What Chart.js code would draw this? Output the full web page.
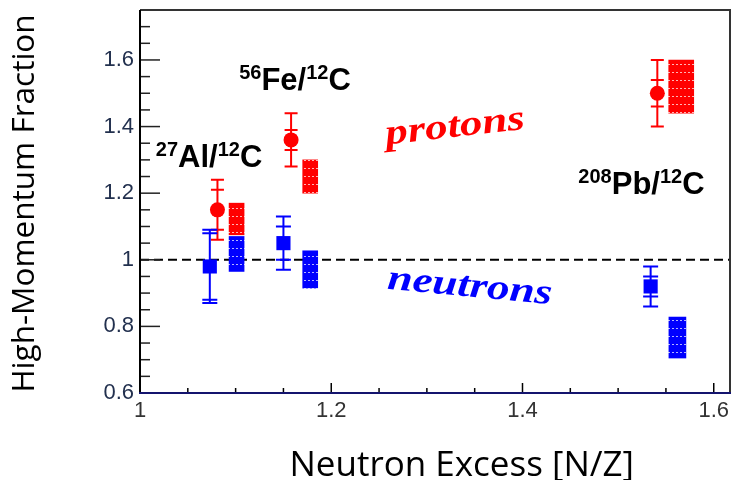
<!DOCTYPE html>
<html lang="en">
<head>
<meta charset="UTF-8" />
<title>High-Momentum Fraction vs Neutron Excess</title>
<script src="https://cdn.jsdelivr.net/npm/chart.js"></script>
<style>
  body { margin: 0; background: #fff; }
  .chart-container { width: 740px; height: 480px; }
</style>
</head>
<body>
<div class="chart-container"><canvas id="hmChart"></canvas></div>
<script>
  // measured A/12C ratios of the high-momentum fraction, for 27Al, 56Fe, 208Pb
  const protonNZ = [1.081, 1.158, 1.541];
  const protonRatio = [1.15, 1.36, 1.5];
  const protonStatErr = [0.06, 0.03, 0.04];
  const protonTotErr = [0.09, 0.08, 0.1];

  const neutronNZ = [1.073, 1.15, 1.534];
  const neutronRatio = [0.98, 1.05, 0.92];
  const neutronStatErr = [0.1, 0.05, 0.03];
  const neutronTotErr = [0.11, 0.08, 0.06];

  // calculation bands (Al, Fe, Pb)
  const protonBandNZ = [1.101, 1.178, 1.566];
  const protonBandLow = [1.075, 1.2, 1.44];
  const protonBandHigh = [1.17, 1.3, 1.6];
  const neutronBandNZ = [1.101, 1.178, 1.562];
  const neutronBandLow = [0.965, 0.915, 0.705];
  const neutronBandHigh = [1.07, 1.027, 0.828];

  const xTickValues = [1, 1.2, 1.4, 1.6];
  const yTickValues = [0.6, 0.8, 1, 1.2, 1.4, 1.6];

  const RED = "#ff0000";
  const BLUE = "#0000ff";

  function toPoints(xs, ys) {
    return xs.map((x, i) => ({ x: x, y: ys[i] }));
  }
  function toBands(xs, lo, hi) {
    return xs.map((x, i) => ({ x: x, y: [lo[i], hi[i]] }));
  }

  // solid fill with the dotted white rows of the calculation boxes
  function bandPattern(color) {
    const c = document.createElement("canvas");
    c.width = 4;
    c.height = 8;
    const g = c.getContext("2d");
    g.fillStyle = color;
    g.fillRect(0, 0, 4, 8);
    g.fillStyle = "rgba(255,255,255,0.7)";
    g.fillRect(0, 0, 2, 1);
    return g.createPattern(c, "repeat");
  }

  function bandSet(data, color, width) {
    return {
      type: "bar",
      data: data,
      backgroundColor: bandPattern(color),
      borderWidth: 0,
      barThickness: width,
      grouped: false,
    };
  }

  const protonBands = toBands(protonBandNZ, protonBandLow, protonBandHigh);
  const neutronBands = toBands(neutronBandNZ, neutronBandLow, neutronBandHigh);

  // keep the plot frame where the layout puts it (no room reserved for edge labels)
  function noEdgePadding(s) {
    s.paddingTop = 0;
    s.paddingBottom = 0;
    s.paddingLeft = 0;
    s.paddingRight = 0;
  }

  const frameAndTicks = {
    id: "frameAndTicks",
    beforeDatasetsDraw(chart) {
      const { ctx, chartArea: a, scales } = chart;
      const x = scales.x, y = scales.y;
      ctx.save();

      // dashed line at ratio = 1
      ctx.strokeStyle = "#000";
      ctx.lineWidth = 2;
      ctx.setLineDash([9, 5]);
      const y1 = y.getPixelForValue(1);
      ctx.beginPath();
      ctx.moveTo(a.left, y1);
      ctx.lineTo(a.right, y1);
      ctx.stroke();
      ctx.setLineDash([]);

      // inward ticks every 0.05
      ctx.strokeStyle = "#222";
      ctx.lineWidth = 1.5;
      for (let i = 0; 0.6 + i * 0.05 <= y.max + 1e-9; i++) {
        const py = y.getPixelForValue(0.6 + i * 0.05);
        const len = i % 4 === 0 ? 20 : 10;
        ctx.beginPath();
        ctx.moveTo(a.left, py);
        ctx.lineTo(a.left + len, py);
        ctx.stroke();
      }
      ctx.strokeStyle = "#000";
      for (let i = 0; 1 + i * 0.05 <= x.max + 1e-9; i++) {
        const px = x.getPixelForValue(1 + i * 0.05);
        const len = i % 4 === 0 ? 10 : 5;
        ctx.beginPath();
        ctx.moveTo(px, a.bottom);
        ctx.lineTo(px, a.bottom - len);
        ctx.stroke();
      }

      // frame
      ctx.lineWidth = 2;
      ctx.strokeStyle = "#333";
      ctx.beginPath();
      ctx.moveTo(a.left, a.top);
      ctx.lineTo(a.right, a.top);
      ctx.lineTo(a.right, a.bottom);
      ctx.stroke();
      ctx.strokeStyle = "#000";
      ctx.beginPath();
      ctx.moveTo(a.left, a.top);
      ctx.lineTo(a.left, a.bottom);
      ctx.stroke();
      ctx.strokeStyle = "#14146e";
      ctx.beginPath();
      ctx.moveTo(a.left - 1, a.bottom);
      ctx.lineTo(a.right + 1, a.bottom);
      ctx.stroke();

      // error bars: outer caps = total, inner caps = statistical
      const sets = [
        [protonNZ, protonRatio, protonStatErr, protonTotErr, RED, 6.5],
        [neutronNZ, neutronRatio, neutronStatErr, neutronTotErr, BLUE, 7.5],
      ];
      ctx.lineWidth = 2;
      sets.forEach(([xs, ys, stat, tot, color, cap]) => {
        ctx.strokeStyle = color;
        xs.forEach((xv, i) => {
          const px = x.getPixelForValue(xv);
          const top = y.getPixelForValue(ys[i] + tot[i]);
          const bot = y.getPixelForValue(ys[i] - tot[i]);
          const sTop = y.getPixelForValue(ys[i] + stat[i]);
          const sBot = y.getPixelForValue(ys[i] - stat[i]);
          ctx.beginPath();
          ctx.moveTo(px, top);
          ctx.lineTo(px, bot);
          [top, bot, sTop, sBot].forEach((py) => {
            ctx.moveTo(px - cap, py);
            ctx.lineTo(px + cap, py);
          });
          ctx.stroke();
        });
      });
      ctx.restore();
    },
  };

  function drawRuns(ctx, left, base, runs) {
    let cx = left;
    runs.forEach(([text, sup]) => {
      ctx.font = sup ? "bold 20px 'Liberation Sans'" : "bold 31px 'Liberation Sans'";
      ctx.fillText(text, cx, sup ? base - 11 : base);
      cx += ctx.measureText(text).width;
    });
  }

  const annotations = {
    id: "annotations",
    afterDraw(chart) {
      const { ctx, chartArea: a, scales } = chart;
      const x = scales.x, y = scales.y;
      ctx.save();
      ctx.fillStyle = "#000";
      ctx.textBaseline = "alphabetic";
      ctx.textAlign = "left";
      drawRuns(ctx, x.getPixelForValue(1.0166), y.getPixelForValue(1.28),
        [["27", true], ["Al/", false], ["12", true], ["C", false]]);
      drawRuns(ctx, x.getPixelForValue(1.1037), y.getPixelForValue(1.511),
        [["56", true], ["Fe/", false], ["12", true], ["C", false]]);
      drawRuns(ctx, x.getPixelForValue(1.4584), y.getPixelForValue(1.199),
        [["208", true], ["Pb/", false], ["12", true], ["C", false]]);

      // slanted species names
      const slanted = [
        ["protons", RED, 1.3306, 1.37, -0.113],
        ["neutrons", BLUE, 1.344, 0.89, 0.094],
      ];
      ctx.font = "italic bold 36px 'Liberation Serif'";
      ctx.textAlign = "center";
      slanted.forEach(([text, color, xv, yv, rot]) => {
        ctx.save();
        ctx.translate(x.getPixelForValue(xv), y.getPixelForValue(yv));
        ctx.rotate(rot);
        ctx.scale(1.25, 1);
        ctx.fillStyle = color;
        ctx.fillText(text, 0, 0);
        ctx.restore();
      });

      // axis titles
      ctx.fillStyle = "#000";
      ctx.font = "31.5px 'Open Sans'";
      ctx.save();
      ctx.translate(34, (a.top + a.bottom) / 2 + 2);
      ctx.rotate(-Math.PI / 2);
      ctx.fillText("High-Momentum Fraction", 0, 0);
      ctx.restore();
      ctx.font = "35px 'Open Sans'";
      ctx.fillText("Neutron Excess [N/Z]", chart.width * 0.624, chart.height - 4);
      ctx.restore();
    },
  };

  new Chart(document.getElementById("hmChart"), {
    type: "scatter",
    data: {
      datasets: [
        {
          data: toPoints(protonNZ, protonRatio),
          pointStyle: "circle",
          pointRadius: 7.5,
          backgroundColor: RED,
          borderWidth: 0,
        },
        {
          data: toPoints(neutronNZ, neutronRatio),
          pointStyle: "rect",
          pointRadius: 10,
          backgroundColor: BLUE,
          borderWidth: 0,
        },
        bandSet(protonBands.slice(0, 2), RED, 15),
        bandSet(protonBands.slice(2), RED, 25),
        bandSet(neutronBands.slice(0, 2), BLUE, 15),
        bandSet(neutronBands.slice(2), BLUE, 17),
      ],
    },
    options: {
      responsive: true,
      maintainAspectRatio: false,
      animation: false,
      layout: { padding: { top: 8, right: 2, left: 0, bottom: 0 } },
      plugins: { legend: { display: false }, tooltip: { enabled: false } },
      scales: {
        x: {
          type: "linear",
          min: 1,
          max: 1.617,
          offset: false,
          grid: { display: false, drawTicks: false },
          border: { display: false },
          afterBuildTicks: (s) => { s.ticks = xTickValues.map((v) => ({ value: v })); },
          afterFit: (s) => { s.height = 87; noEdgePadding(s); },
          ticks: {
            color: "#333",
            padding: 5,
            maxRotation: 0,
            font: { family: "'Liberation Sans'", size: 22 },
            callback: (v) => String(v),
          },
        },
        y: {
          type: "linear",
          min: 0.6,
          max: 1.75,
          grid: { display: false, drawTicks: false },
          border: { display: false },
          afterBuildTicks: (s) => { s.ticks = yTickValues.map((v) => ({ value: v })); },
          afterFit: (s) => { s.width = 140; noEdgePadding(s); },
          ticks: {
            color: "#22304e",
            padding: 6,
            font: { family: "'Liberation Sans'", size: 22 },
            callback: (v) => String(v),
          },
        },
      },
    },
    plugins: [frameAndTicks, annotations],
  });
</script>
</body>
</html>
